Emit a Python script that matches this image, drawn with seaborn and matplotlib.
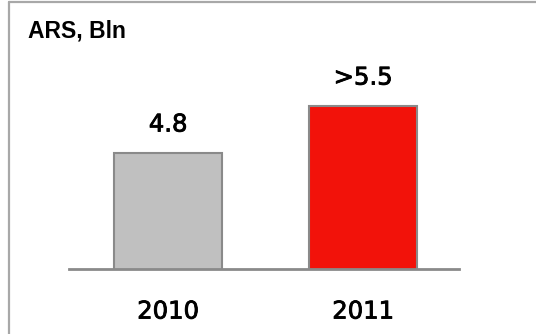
import matplotlib
matplotlib.use("Agg")
import matplotlib.pyplot as plt
from matplotlib.lines import Line2D
import matplotlib.patheffects as pe
import seaborn as sns
import pandas as pd

years = ["2010", "2011"]
values = [4.8, 5.5]
value_labels = ["4.8", ">5.5"]
bar_colors = ["#c0c0c0", "#f2120a"]
unit_label = "ARS, Bln"

sns.set_theme(style="white")
plt.rcParams["font.family"] = ["DejaVu Sans"]

W, H = 536, 334
fig = plt.figure(figsize=(W / 100, H / 100), dpi=100)
fig.patch.set_linewidth(0)
ax = fig.add_axes([69 / W, 65 / H, 390 / W, 229 / H])

df = pd.DataFrame({"year": years, "value": values})
sns.barplot(data=df, x="year", y="value", hue="year", palette=bar_colors,
            legend=False, width=0.555, edgecolor="#8a8a8a", linewidth=1.5,
            saturation=1, ax=ax)

ax.set_xlim(-0.508, 1.492)
ax.set_ylim(3.07, 6.485)
ax.set_xlabel("")
ax.set_ylabel("")
ax.set_yticks([])
for s in ["top", "right", "left"]:
    ax.spines[s].set_visible(False)
ax.spines["bottom"].set_color("#8a8a8a")
ax.spines["bottom"].set_linewidth(2)
ax.tick_params(axis="x", length=0, pad=22, labelsize=17.5, labelcolor="black")

thick = [pe.withStroke(linewidth=0.6, foreground="black")]
for t in ax.get_xticklabels():
    t.set_path_effects(thick)

for i, (v, lab) in enumerate(zip(values, value_labels)):
    ax.annotate(lab, (i, v), xytext=(0, 20.5), textcoords="offset points",
                ha="center", va="center", fontsize=17.5, color="black",
                path_effects=thick)

fig.text(28 / W, 1 - 31 / H, unit_label, ha="left", va="center", color="black",
         fontsize=16.5, fontweight="bold", family=["Liberation Sans", "DejaVu Sans"])

# frame lines (left and top)
fig.add_artist(Line2D([9 / W, 9 / W], [0, 1 - 2 / H], transform=fig.transFigure,
                      color="#a8a8a8", linewidth=1.6))
fig.add_artist(Line2D([9 / W, 1], [1 - 2 / H, 1 - 2 / H], transform=fig.transFigure,
                      color="#a8a8a8", linewidth=1.6))

fig.savefig("out.png", dpi=100)
